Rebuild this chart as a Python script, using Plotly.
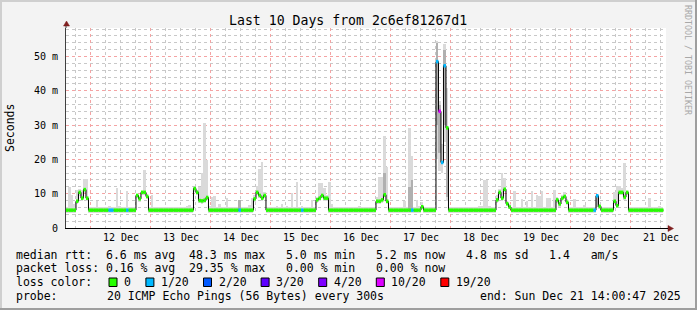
import plotly.graph_objects as go
import pandas as pd

# ---------------- data (hourly bins starting 2025-12-11 14:00) ----------------
bin_start = "2025-12-11 14:00:00"
range_start = "2025-12-11 14:00:47"
range_end = "2025-12-21 14:00:47"

median_ms = [
    5.2, 5.2, 5.2, 5.2, 7.8, 10.4, 8.7, 11.2, 8.7, 5.2, 5.2, 5.2, 5.2, 5.2, 5.2, 5.2, 5.2, 5.2, 5.2, 5.2, 5.2, 5.2, 5.2, 5.2,
    5.2, 5.2, 5.2, 5.2, 9.5, 8.5, 10.4, 10.4, 9.2, 5.2, 5.2, 5.2, 5.2, 5.2, 5.2, 5.2, 5.2, 5.2, 5.2, 5.2, 5.2, 5.2, 5.2, 5.2,
    5.2, 5.2, 5.2, 11.5, 10.4, 8.0, 7.9, 8.1, 8.9, 5.2, 5.2, 5.2, 5.2, 5.2, 5.2, 5.2, 5.2, 5.2, 5.2, 5.2, 5.2, 5.2, 5.2, 5.2,
    5.2, 5.2, 5.2, 8.5, 10.4, 9.5, 8.7, 9.5, 5.2, 5.2, 5.2, 5.2, 5.2, 5.2, 5.2, 5.2, 5.2, 5.2, 5.2, 5.2, 5.2, 5.2, 5.2, 5.2,
    5.2, 5.2, 5.2, 5.2, 8.2, 8.7, 9.5, 8.7, 8.7, 5.2, 5.2, 5.2, 5.2, 5.2, 5.2, 5.2, 5.2, 5.2, 5.2, 5.2, 5.2, 5.2, 5.2, 5.2,
    5.2, 5.2, 5.2, 5.2, 7.8, 7.8, 8.2, 9.7, 7.8, 5.2, 5.2, 5.2, 5.2, 5.2, 5.2, 5.2, 5.2, 5.2, 5.2, 5.2, 5.2, 5.2, 6.2, 5.2,
    5.2, 5.2, 5.2, 5.2, 48.5, 34.0, 19.1, 47.3, 29.2, 5.2, 5.2, 5.2, 5.2, 5.2, 5.2, 5.2, 5.2, 5.2, 5.2, 5.2, 5.2, 5.2, 5.2, 5.2,
    5.2, 5.2, 5.2, 5.2, 8.2, 10.4, 8.7, 11.3, 7.1, 6.1, 5.2, 5.2, 5.2, 5.2, 5.2, 5.2, 5.2, 5.2, 5.2, 5.2, 5.2, 5.2, 5.2, 5.2,
    5.2, 5.2, 5.2, 5.2, 8.2, 7.0, 8.7, 9.2, 7.5, 5.2, 5.2, 5.2, 5.2, 5.2, 5.2, 5.2, 5.2, 5.2, 5.2, 5.2, 9.4, 6.3, 5.2, 5.2,
    5.2, 5.2, 5.2, 7.8, 6.5, 10.4, 10.4, 9.0, 10.4, 5.2, 5.2, 5.2, 5.2, 5.2, 5.2, 5.2, 5.2, 5.2, 5.2, 5.2, 5.2, 5.2, 5.2,
]

smoke_hi = [
    6.0, 11.9, 9.5, 7.0, 11.2, 11.5, 11.0, 14.3, 14.3, 6.0, 6.0, 6.0, 7.8, 6.0, 6.0, 6.0, 6.0, 6.5, 6.0, 6.0, 11.7, 6.3, 6.0, 6.0,
    10.9, 6.0, 6.0, 6.0, 10.0, 9.2, 10.9, 16.8, 10.0, 6.0, 9.7, 6.0, 6.0, 6.0, 6.0, 6.0, 6.0, 6.0, 6.0, 6.0, 6.0, 6.0, 6.0, 6.0,
    6.3, 6.8, 6.0, 12.0, 11.0, 12.0, 16.0, 30.5, 19.7, 6.5, 9.0, 9.4, 6.0, 7.0, 6.0, 6.0, 8.7, 6.0, 6.0, 6.0, 6.0, 8.3, 6.0, 6.0,
    6.0, 6.8, 8.7, 9.5, 12.1, 17.2, 19.1, 10.5, 6.0, 6.0, 6.0, 6.0, 6.3, 6.0, 7.1, 6.0, 6.3, 6.0, 10.2, 6.0, 13.5, 6.0, 6.3, 6.0,
    6.0, 6.0, 8.3, 6.0, 9.0, 13.2, 13.2, 11.7, 9.5, 13.3, 7.0, 6.0, 6.0, 6.0, 6.0, 6.0, 6.0, 6.0, 6.0, 6.0, 6.0, 6.5, 6.0, 6.0,
    6.0, 6.0, 6.0, 6.0, 9.0, 15.0, 15.0, 26.7, 17.7, 6.0, 6.0, 6.0, 6.0, 6.0, 6.0, 8.0, 6.0, 29.2, 21.1, 6.0, 8.2, 6.5, 7.5, 6.0,
    6.0, 6.0, 6.0, 6.0, 54.4, 37.0, 24.5, 53.7, 40.8, 6.0, 6.0, 6.0, 6.0, 6.0, 6.1, 6.0, 6.0, 6.0, 6.0, 6.0, 6.0, 6.3, 6.5, 13.9,
    13.9, 6.5, 6.0, 6.0, 9.5, 11.5, 16.0, 14.5, 8.0, 7.0, 6.0, 10.7, 6.0, 6.0, 8.5, 6.0, 7.8, 6.0, 10.7, 6.0, 9.7, 9.4, 10.7, 6.0,
    8.7, 8.7, 6.0, 11.2, 9.0, 8.0, 9.7, 10.4, 8.5, 6.0, 6.0, 8.5, 6.0, 6.0, 6.0, 6.8, 6.0, 6.0, 6.0, 6.0, 10.0, 7.0, 6.0, 6.0,
    6.0, 6.0, 6.0, 10.4, 12.1, 12.1, 11.7, 19.0, 10.7, 6.0, 6.0, 6.0, 6.0, 6.0, 6.0, 6.0, 6.0, 8.7, 6.0, 6.0, 6.0, 6.3, 6.0,
]

smoke_lo = [
    4.5, 4.5, 4.5, 4.5, 7.0, 9.4, 7.9, 10.2, 7.9, 4.5, 4.5, 4.5, 4.5, 4.5, 4.5, 4.5, 4.5, 4.5, 4.5, 4.5, 4.5, 4.5, 4.5, 4.5,
    4.5, 4.5, 4.5, 4.5, 8.7, 7.7, 9.5, 9.5, 8.4, 4.5, 4.5, 4.5, 4.5, 4.5, 4.5, 4.5, 4.5, 4.5, 4.5, 4.5, 4.5, 4.5, 4.5, 4.5,
    4.5, 4.5, 4.5, 10.6, 9.5, 7.2, 7.1, 7.3, 8.1, 4.5, 4.5, 4.5, 4.5, 4.5, 4.5, 4.5, 4.5, 4.5, 4.5, 4.5, 4.5, 4.5, 4.5, 4.5,
    4.5, 4.5, 4.5, 7.7, 9.5, 8.7, 7.9, 8.7, 4.5, 4.5, 4.5, 4.5, 4.5, 4.5, 4.5, 4.5, 4.5, 4.5, 4.5, 4.5, 4.5, 4.5, 4.5, 4.5,
    4.5, 4.5, 4.5, 4.5, 7.4, 7.9, 8.7, 7.9, 7.9, 4.5, 4.5, 4.5, 4.5, 4.5, 4.5, 4.5, 4.5, 4.5, 4.5, 4.5, 4.5, 4.5, 4.5, 4.5,
    4.5, 4.5, 4.5, 4.5, 7.0, 7.0, 7.4, 8.9, 7.0, 4.5, 4.5, 4.5, 4.5, 4.5, 4.5, 4.5, 4.5, 4.5, 4.5, 4.5, 4.5, 4.5, 5.4, 4.5,
    4.5, 4.5, 4.5, 4.5, 20.0, 16.5, 16.0, 25.0, 8.0, 4.5, 4.5, 4.5, 4.5, 4.5, 4.5, 4.5, 4.5, 4.5, 4.5, 4.5, 4.5, 4.5, 4.5, 4.5,
    4.5, 4.5, 4.5, 4.5, 7.4, 9.5, 7.9, 10.4, 6.3, 5.4, 4.5, 4.5, 4.5, 4.5, 4.5, 4.5, 4.5, 4.5, 4.5, 4.5, 4.5, 4.5, 4.5, 4.5,
    4.5, 4.5, 4.5, 4.5, 7.4, 6.2, 7.9, 8.4, 6.7, 4.5, 4.5, 4.5, 4.5, 4.5, 4.5, 4.5, 4.5, 4.5, 4.5, 4.5, 8.5, 5.5, 4.5, 4.5,
    4.5, 4.5, 4.5, 7.0, 5.7, 9.5, 9.5, 8.2, 9.5, 4.5, 4.5, 4.5, 4.5, 4.5, 4.5, 4.5, 4.5, 4.5, 4.5, 4.5, 4.5, 4.5, 4.5,
]

loss_class = [
    0, 0, 0, 0, 0, 0, 0, 0, 0, 0, 0, 0, 0, 0, 0, 0, 0, 1, 1, 0, 0, 0, 0, 0,
    1, 0, 0, 0, 0, 0, 0, 0, 0, 0, 0, 0, 0, 0, 0, 0, 0, 0, 0, 0, 0, 0, 0, 0,
    0, 0, 0, 0, 0, 0, 0, 0, 0, 0, 0, 0, 0, 0, 0, 0, 0, 0, 0, 0, 0, 1, 0, 0,
    0, 0, 0, 0, 0, 0, 0, 0, 0, 0, 0, 0, 0, 0, 0, 0, 0, 0, 0, 0, 0, 0, 1, 0,
    0, 0, 0, 0, 0, 0, 0, 0, 0, 0, 0, 0, 0, 0, 0, 0, 0, 0, 0, 0, 0, 0, 0, 0,
    0, 0, 0, 0, 0, 0, 0, 0, 0, 0, 0, 0, 0, 0, 0, 0, 0, 0, 1, 0, 0, 0, 0, 0,
    0, 0, 0, 0, 1, 5, 1, 1, 0, 0, 0, 0, 0, 0, 0, 0, 0, 0, 0, 0, 0, 0, 0, 0,
    0, 0, 0, 0, 0, 0, 0, 0, 0, 0, 0, 0, 0, 0, 0, 0, 0, 0, 0, 0, 0, 0, 0, 0,
    0, 0, 0, 0, 0, 0, 0, 0, 0, 0, 0, 0, 0, 0, 0, 0, 0, 0, 0, 1, 1, 0, 0, 0,
    0, 0, 0, 0, 0, 0, 0, 0, 0, 0, 0, 0, 0, 0, 0, 0, 0, 0, 0, 0, 0, 0, 0,
]

# darker smoke core for some bins
core_idx = [69, 127, 137, 138, 148, 149, 151, 152, 212]
core_lo = [5.0, 9.0, 5.5, 5.5, 30.0, 22.0, 30.0, 9.0, 6.0]
core_hi = [8.3, 16.0, 12.0, 14.0, 54.0, 36.0, 52.0, 29.0, 10.0]

loss_labels = ["0", "1/20", "2/20", "3/20", "4/20", "10/20", "19/20"]
loss_colors = ["#26ff00", "#00b8ff", "#0059ff", "#5e00ff", "#7e00ff", "#dd00ff", "#ff0000"]

y_tick_vals = [0, 10, 20, 30, 40, 50]
y_tick_text = ["0", "10 m", "20 m", "30 m", "40 m", "50 m"]

title_text = "Last 10 Days from 2c6ef81267d1"
legend_rows = [
    "median rtt:  6.6 ms avg  48.3 ms max   5.0 ms min   5.2 ms now   4.8 ms sd   1.4   am/s",
    "packet loss: 0.16 % avg  29.35 % max   0.00 % min   0.00 % now",
]
probe_text = "20 ICMP Echo Pings (56 Bytes) every 300s"
end_text = "end: Sun Dec 21 14:00:47 2025"

# ---------------- figure ----------------
MONO = "DejaVu Sans Mono"
W, H = 697, 310
L, R, T, B = 66, 31, 28, 82
PW, PH = W - L - R, H - T - B

n = len(median_ms)
t0 = pd.Timestamp(bin_start)
starts = [t0 + pd.Timedelta(hours=i) for i in range(n)]
ends = [s + pd.Timedelta(hours=1) for s in starts]
centers = [s + pd.Timedelta(minutes=30) for s in starts]
HOUR_MS = 3600000

fig = go.Figure()

fig.add_trace(go.Bar(
    x=centers, base=smoke_lo, y=[h - l for h, l in zip(smoke_hi, smoke_lo)],
    width=HOUR_MS, marker=dict(color="#dadada", line=dict(width=0)), hoverinfo="skip"))
fig.add_trace(go.Bar(
    x=[centers[i] for i in core_idx], base=core_lo, y=[h - l for h, l in zip(core_hi, core_lo)],
    width=HOUR_MS, marker=dict(color="#b0b0b0", line=dict(width=0)), hoverinfo="skip"))

fig.add_trace(go.Scatter(
    x=starts + [ends[-1]], y=median_ms + [median_ms[-1]], mode="lines",
    line=dict(color="#000000", width=1, shape="hv"), hoverinfo="skip"))

for c, col in enumerate(loss_colors):
    xs, ys = [], []
    for i in range(n):
        if loss_class[i] == c:
            xs += [starts[i], ends[i], None]
            ys += [median_ms[i], median_ms[i], None]
    if xs:
        fig.add_trace(go.Scatter(x=xs, y=ys, mode="lines",
                                 line=dict(color=col, width=3.5), hoverinfo="skip"))


def ann(text, X, Y, size=11.5, xanchor="left", color="#000000", angle=0, family=MONO):
    fig.add_annotation(text=text, xref="paper", yref="paper", x=0, y=0,
                       xshift=X - L, yshift=(H - B) - Y, xanchor=xanchor, yanchor="middle",
                       showarrow=False, textangle=angle, borderpad=0, borderwidth=0,
                       font=dict(family=family, size=size, color=color))


def px(X):
    return (X - L) / PW


def py(Y):
    return ((H - B) - Y) / PH


ann(title_text, 347.5, 20, size=13.2, xanchor="center")
ann("Seconds", 10, 128, size=11.5, xanchor="center", angle=-90)
ann("RRDTOOL / TOBI OETIKER", 688, 60, size=8.3, xanchor="center", color="#a8a8a8", angle=90)

ann(legend_rows[0], 16, 255)
ann(legend_rows[1], 16, 268)
ann("loss color:", 16, 282)
ann("probe:", 16, 296)
ann(probe_text, 107, 296)
ann(end_text, 681, 296, xanchor="right")

shapes = []
bx = 109.0
CW = 6.9
for lab, col in zip(loss_labels, loss_colors):
    shapes.append(dict(type="rect", xref="paper", yref="paper",
                       x0=px(bx), x1=px(bx + 8), y0=py(286.5), y1=py(278),
                       fillcolor=col, line=dict(color="#000000", width=1)))
    ann(lab, bx + 15, 282)
    bx = bx + 15 + len(lab) * CW + 15

# axis arrows
arrow_col = "#7f1f1f"
shapes.append(dict(type="path", xref="paper", yref="paper",
                   path=f"M {px(63.5)} {py(26)} L {px(69.5)} {py(26)} L {px(66.5)} {py(21)} Z",
                   fillcolor=arrow_col, line=dict(color=arrow_col, width=0.5)))
shapes.append(dict(type="line", xref="paper", yref="paper",
                   x0=px(66), x1=px(66), y0=py(28), y1=py(26), line=dict(color="#404040", width=1)))
shapes.append(dict(type="path", xref="paper", yref="paper",
                   path=f"M {px(668)} {py(225.5)} L {px(668)} {py(231.5)} L {px(673.5)} {py(228.5)} Z",
                   fillcolor=arrow_col, line=dict(color=arrow_col, width=0.5)))
shapes.append(dict(type="line", xref="paper", yref="paper",
                   x0=px(666), x1=px(668), y0=py(228.5), y1=py(228.5), line=dict(color="#000000", width=1)))

# 3D frame
shapes.append(dict(type="rect", xref="paper", yref="paper", x0=px(0), x1=px(W), y0=py(2), y1=py(0),
                   fillcolor="#cfcfcf", line=dict(width=0)))
shapes.append(dict(type="rect", xref="paper", yref="paper", x0=px(0), x1=px(2), y0=py(H), y1=py(0),
                   fillcolor="#cfcfcf", line=dict(width=0)))
shapes.append(dict(type="rect", xref="paper", yref="paper", x0=px(0), x1=px(W), y0=py(H), y1=py(H - 2),
                   fillcolor="#9e9e9e", line=dict(width=0)))
shapes.append(dict(type="rect", xref="paper", yref="paper", x0=px(W - 2), x1=px(W), y0=py(H), y1=py(0),
                   fillcolor="#9e9e9e", line=dict(width=0)))

fig.update_layout(
    width=W, height=H,
    margin=dict(l=L, r=R, t=T, b=B, pad=0),
    paper_bgcolor="#f3f3f3", plot_bgcolor="#ffffff",
    showlegend=False, barmode="overlay", bargap=0,
    shapes=shapes,
    font=dict(family=MONO, color="#000000"),
)

fig.update_xaxes(
    type="date", range=[range_start, range_end],
    tickformat="%d %b", ticklabelmode="period",
    dtick=86400000, tick0="2025-12-12 00:00:00",
    showgrid=True, gridcolor="#f4a4a4", griddash="dot", gridwidth=1,
    minor=dict(dtick=21600000, tick0="2025-12-12 00:00:00", showgrid=True,
               gridcolor="#c8c8c8", griddash="dot", gridwidth=1, ticks=""),
    showline=True, linecolor="#000000", linewidth=1,
    ticks="", zeroline=False,
    tickfont=dict(family=MONO, size=10, color="#000000"),
)
fig.update_yaxes(
    range=[0, 58.3], tickvals=y_tick_vals, ticktext=y_tick_text,
    showgrid=True, gridcolor="#f4a4a4", griddash="dot", gridwidth=1,
    minor=dict(dtick=2, tick0=0, showgrid=True, gridcolor="#c8c8c8", griddash="dot", gridwidth=1, ticks=""),
    showline=True, linecolor="#404040", linewidth=1,
    ticks="", zeroline=False, ticklabelstandoff=5,
    tickfont=dict(family=MONO, size=10, color="#000000"),
)

fig.write_html("out.html")
